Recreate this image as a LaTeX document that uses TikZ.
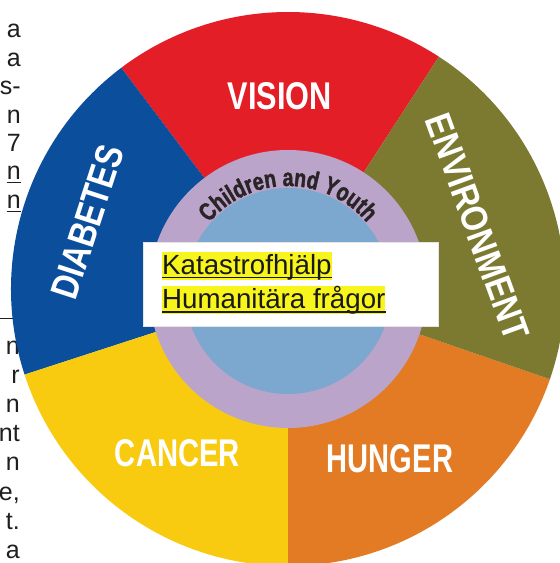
\documentclass[tikz,border=0pt]{standalone}
\usepackage{fontspec}
\setmainfont{Liberation Sans}
\newfontfamily\ringfont[FakeStretch=0.78, BoldFeatures={FakeBold=1.6}]{Liberation Sans}
\usepackage{graphicx}
\usetikzlibrary{decorations.text}
\definecolor{cVision}{HTML}{E31E26}
\definecolor{cEnv}{HTML}{7B7A30}
\definecolor{cHunger}{HTML}{E37B24}
\definecolor{cCancer}{HTML}{F9CB10}
\definecolor{cDiab}{HTML}{0B4E9B}
\definecolor{cRing}{HTML}{BBA4C9}
\definecolor{cCore}{HTML}{7CA7CF}
\definecolor{cHi}{HTML}{F8F51C}
\definecolor{cText}{HTML}{2A2426}
\newcommand\cyfont{\ringfont\bfseries\fontsize{25}{29}\selectfont}
\tikzset{
  wlabel/.style={text=white, font=\bfseries, inner sep=0pt},
  frag/.style={font=\fontsize{25}{29}\selectfont, anchor=base east, inner sep=0pt, text=black!88},
  hl/.style={fill=cHi, inner xsep=0pt, inner ysep=0pt, text height=23pt, text depth=5pt,
             font=\fontsize{27.7}{32}\selectfont, anchor=base west, text=black!90},
  ul/.style={line width=1.5pt, black!90},
  fragul/.style={line width=1pt, black!88},
  whitebox/.style={fill=white, draw=black!10, line width=0.6pt, minimum width=295pt,
                   minimum height=84pt, inner sep=0pt},
}
\begin{document}
\begin{tikzpicture}[x=1pt,y=1pt]
\useasboundingbox (0,0) rectangle (560,563);
\fill[white] (0,0) rectangle (560,563);
\clip (0,0) rectangle (560,563);
% text fragments cut at the left edge
\node[frag] (f1) at (21,525) {a};
\node[frag] (f2) at (21,496.6) {a};
\node[frag] (f3) at (21,468.2) {s-};
\node[frag] (f4) at (21,439.8) {n};
\node[frag] (f5) at (21,411.4) {7};
\node[frag] (f6) at (21,383) {n};
\node[frag] (f7) at (21,354.6) {n};
\draw[fragul] ([yshift=-3pt]f6.base west) -- ([yshift=-3pt]f6.base east);
\draw[fragul] ([yshift=-3pt]f7.base west) -- ([yshift=-3pt]f7.base east);
\coordinate (r1) at (0,244);
\coordinate (r2) at (20,244);
\draw[fragul] (r1) -- (r2);
\node[frag] (g1) at (20,208) {n};
\node[frag] (g2) at (20,179) {r};
\node[frag] (g3) at (20,150) {n};
\node[frag] (g4) at (20,121) {nt};
\node[frag] (g5) at (20,92) {n};
\node[frag] (g6) at (20,63) {e,};
\node[frag] (g7) at (20,34) {t.};
\node[frag] (g8) at (20,5) {a};
% wheel
\coordinate (c) at (288,274);
\fill[cVision] (c) -- ++(57:277) arc[start angle=57, end angle=127, radius=277] -- cycle;
\fill[cDiab] (c) -- ++(127:277) arc[start angle=127, end angle=198, radius=277] -- cycle;
\fill[cCancer] (c) -- ++(198:277) arc[start angle=198, end angle=270, radius=277] -- cycle;
\fill[cHunger] (c) -- ++(270:277) arc[start angle=270, end angle=341, radius=277] -- cycle;
\fill[cEnv] (c) -- ++(341:277) arc[start angle=341, end angle=417, radius=277] -- cycle;
\fill[cRing] (c) circle[radius=139];
\fill[cCore] ([yshift=-2pt]c) circle[radius=103];
% sector labels
\node[wlabel] (vision) at (280,466.5) {\resizebox{104pt}{27pt}{VISION}};
\node[wlabel] (cancer) at (177.5,109.5) {\resizebox{125pt}{27pt}{CANCER}};
\node[wlabel] (hunger) at (390,104) {\resizebox{126pt}{28pt}{HUNGER}};
\node[wlabel, rotate=72] (diabetes) at (87.5,341.3) {\resizebox{159pt}{27pt}{DIABETES}};
\node[wlabel, rotate=-70] (environment) at (477.5,336.3) {\resizebox{237pt}{26pt}{ENVIRONMENT}};
% curved ring text
\path[decorate, decoration={text along path, text align=center, text color=cText,
      text={|\cyfont|Children and Youth}}]
  ([shift={(141:103)}]c) arc[start angle=141, end angle=39, radius=103];
% white box with highlighted text
\node[whitebox] (box) at (290.5,279) {};
\node[hl] (kat) at (162,288) {Katastrofhjälp};
\node[hl] (hum) at (162,254) {Humanitära frågor};
\draw[ul] ([yshift=-2.5pt]kat.base west) -- ([yshift=-2.5pt]kat.base east);
\draw[ul] ([yshift=-3pt]hum.base west) -- ([yshift=-3pt]hum.base east);
\end{tikzpicture}
\end{document}
